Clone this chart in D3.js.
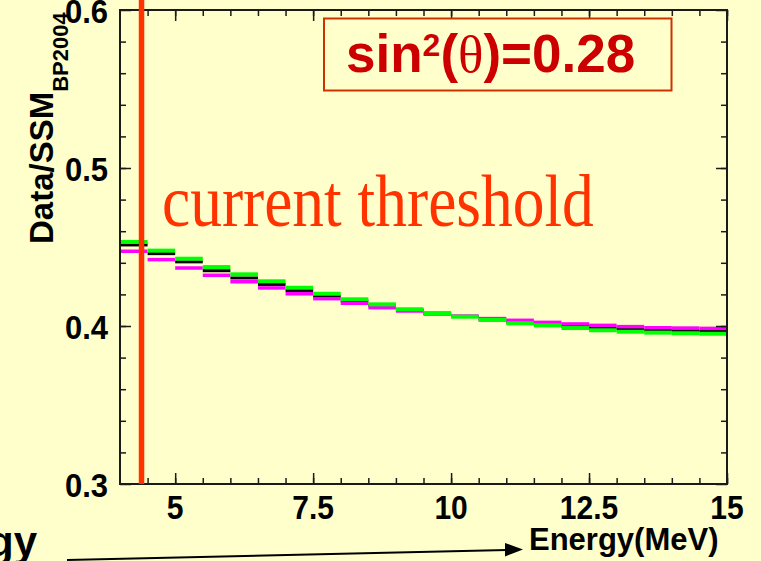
<!DOCTYPE html>
<html>
<head>
<meta charset="utf-8">
<script src="https://cdn.jsdelivr.net/npm/d3@7"></script>
<style>
  html, body { margin: 0; padding: 0; background: #ffffcc; }
  svg { display: block; }
</style>
</head>
<body>
<svg id="chart" width="761" height="561"></svg>
<script>
// ---------------- data ----------------
const binEdges = [4,4.5,5,5.5,6,6.5,7,7.5,8,8.5,9,9.5,10,10.5,11,11.5,12,12.5,13,13.5,14,14.5,15];
const greenValues = [0.4532,0.4477,0.4426,0.4373,0.4327,0.4283,0.4242,0.4204,0.4169,0.4137,0.4106,0.4082,0.4059,0.4038,0.4017,0.4004,0.3987,0.3973,0.3964,0.3958,0.3954,0.3951];
const blackValues = [0.4513,0.4458,0.4406,0.4350,0.4304,0.4263,0.4225,0.4188,0.4158,0.4130,0.4101,0.4079,0.4060,0.4039,0.4025,0.4013,0.3997,0.3987,0.3978,0.3973,0.3970,0.3968];
const magentaValues = [0.4473,0.4420,0.4367,0.4321,0.4280,0.4241,0.4204,0.4173,0.4144,0.4116,0.4095,0.4076,0.4063,0.4047,0.4036,0.4023,0.4013,0.4004,0.3996,0.3989,0.3987,0.3985];
const thresholdEnergy = [4.39];
const xMajorTicks = [5, 7.5, 10, 12.5, 15];
const xTickLabels = ["5", "7.5", "10", "12.5", "15"];
const xMinorTicks = d3.range(4.5, 15.01, 0.5);
const yMajorTicks = [0.3, 0.4, 0.5, 0.6];
const yTickLabels = ["0.3", "0.4", "0.5", "0.6"];
const yMinorTicks = d3.range(0.32, 0.599, 0.02);
const xDomain = [4, 15];
const yDomain = [0.3, 0.6];

// ---------------- layout ----------------
const svg = d3.select("#chart");
const W = 761, H = 561;
const L = 120, R = 727, T = 10, B = 484;
const bg = "#ffffcc";

svg.append("rect").attr("width", W).attr("height", H).attr("fill", bg);

const x = d3.scaleLinear().domain(xDomain).range([L, R]);
const y = d3.scaleLinear().domain(yDomain).range([B, T]);

// ---------------- step series ----------------
function drawSteps(values, color, width) {
  const segs = values.map((v, i) => ({ x0: binEdges[i], x1: binEdges[i + 1], v }));
  svg.append("g")
    .selectAll("line")
    .data(segs)
    .join("line")
    .attr("x1", d => x(d.x0))
    .attr("x2", d => x(d.x1))
    .attr("y1", d => y(d.v))
    .attr("y2", d => y(d.v))
    .attr("stroke", color)
    .attr("stroke-width", width)
    .attr("stroke-linecap", "butt");
}
drawSteps(blackValues, "#000000", 3);
drawSteps(magentaValues, "#ff00ff", 3.5);
drawSteps(greenValues, "#00ff00", 4);

// ---------------- axes (inward ticks on all four sides) ----------------
function addAxis(axisFn, scale, tx, ty, values, size) {
  const g = svg.append("g")
    .attr("transform", `translate(${tx},${ty})`)
    .call(axisFn(scale).tickValues(values).tickSize(-size).tickFormat(""));
  g.select(".domain").remove();
  g.selectAll(".tick line").attr("stroke", "#1a1a1a").attr("stroke-width", 1.5);
}
addAxis(d3.axisBottom, x, 0, B, xMinorTicks, 6);
addAxis(d3.axisBottom, x, 0, B, xMajorTicks, 11);
addAxis(d3.axisTop, x, 0, T, xMinorTicks, 6);
addAxis(d3.axisTop, x, 0, T, xMajorTicks, 11);
addAxis(d3.axisLeft, y, L, 0, yMinorTicks, 6);
addAxis(d3.axisLeft, y, L, 0, yMajorTicks, 11);
addAxis(d3.axisRight, y, R, 0, yMinorTicks, 6);
addAxis(d3.axisRight, y, R, 0, yMajorTicks, 11);

// frame
svg.append("rect")
  .attr("x", L).attr("y", T).attr("width", R - L).attr("height", B - T)
  .attr("fill", "none").attr("stroke", "#1a1a1a").attr("stroke-width", 2);

// threshold line
svg.append("g").selectAll("line")
  .data(thresholdEnergy)
  .join("line")
  .attr("x1", d => x(d)).attr("x2", d => x(d))
  .attr("y1", 0).attr("y2", B)
  .attr("stroke", "#ff3300")
  .attr("stroke-width", 5.5);

// tick labels
const tickFont = "'Liberation Sans', Arial, Helvetica, sans-serif";
svg.append("g").selectAll("text")
  .data(xMajorTicks)
  .join("text")
  .attr("transform", d => `translate(${x(d)},519) scale(1,1.08)`)
  .attr("text-anchor", "middle")
  .attr("font-family", tickFont)
  .attr("font-weight", "bold")
  .attr("font-size", 30)
  .attr("fill", "#000")
  .text((d, i) => xTickLabels[i]);

svg.append("g").selectAll("text")
  .data(yMajorTicks)
  .join("text")
  .attr("transform", d => `translate(108,${y(d) + 13}) scale(1,1.06)`)
  .attr("text-anchor", "end")
  .attr("font-family", tickFont)
  .attr("font-weight", "bold")
  .attr("font-size", 31)
  .attr("fill", "#000")
  .text((d, i) => yTickLabels[i]);

// y axis title
const yt = svg.append("text")
  .attr("transform", "translate(53,244) rotate(-90)")
  .attr("font-family", tickFont)
  .attr("font-weight", "bold")
  .attr("font-size", 33)
  .attr("fill", "#000");
yt.append("tspan").text("Data/SSM");
yt.append("tspan").attr("dy", 15).attr("font-size", 22).text("BP2004");

// x axis title
svg.append("text")
  .attr("x", 529).attr("y", 550)
  .attr("font-family", tickFont)
  .attr("font-weight", "bold")
  .attr("font-size", 31)
  .attr("fill", "#000")
  .text("Energy(MeV)");

// arrow
svg.append("line")
  .attr("x1", 67).attr("y1", 560).attr("x2", 507).attr("y2", 550)
  .attr("stroke", "#000").attr("stroke-width", 2);
svg.append("path")
  .attr("d", "M523,549.6 L505,543 L505,556.5 Z")
  .attr("fill", "#000");

// partial large word at the bottom left
svg.append("text")
  .attr("x", 37).attr("y", 556)
  .attr("text-anchor", "end")
  .attr("font-family", tickFont)
  .attr("font-weight", "bold")
  .attr("font-size", 42)
  .attr("fill", "#000")
  .text("gy");

// "current threshold"
svg.append("text")
  .attr("transform", "translate(162,226) scale(1,1.15)")
  .attr("font-family", "'Liberation Serif', 'Times New Roman', serif")
  .attr("font-size", 63.5)
  .attr("fill", "#ff3300")
  .text("current threshold");

// sin^2(theta) box
svg.append("rect")
  .attr("x", 324).attr("y", 18.5).attr("width", 347.5).attr("height", 72)
  .attr("fill", bg).attr("stroke", "#cc3300").attr("stroke-width", 2);
const tt = svg.append("text")
  .attr("x", 346).attr("y", 71.5)
  .attr("font-family", tickFont)
  .attr("font-weight", "bold")
  .attr("font-size", 53)
  .attr("fill", "#cc0000");
tt.append("tspan").text("sin");
tt.append("tspan").attr("dy", -16).attr("font-size", 32).text("2");
tt.append("tspan").attr("dy", 16).text("(");
tt.append("tspan").attr("font-family", "'Liberation Serif', 'Times New Roman', serif").attr("font-weight", "normal").text("θ");
tt.append("tspan").text(")=0.28");
</script>
</body>
</html>
